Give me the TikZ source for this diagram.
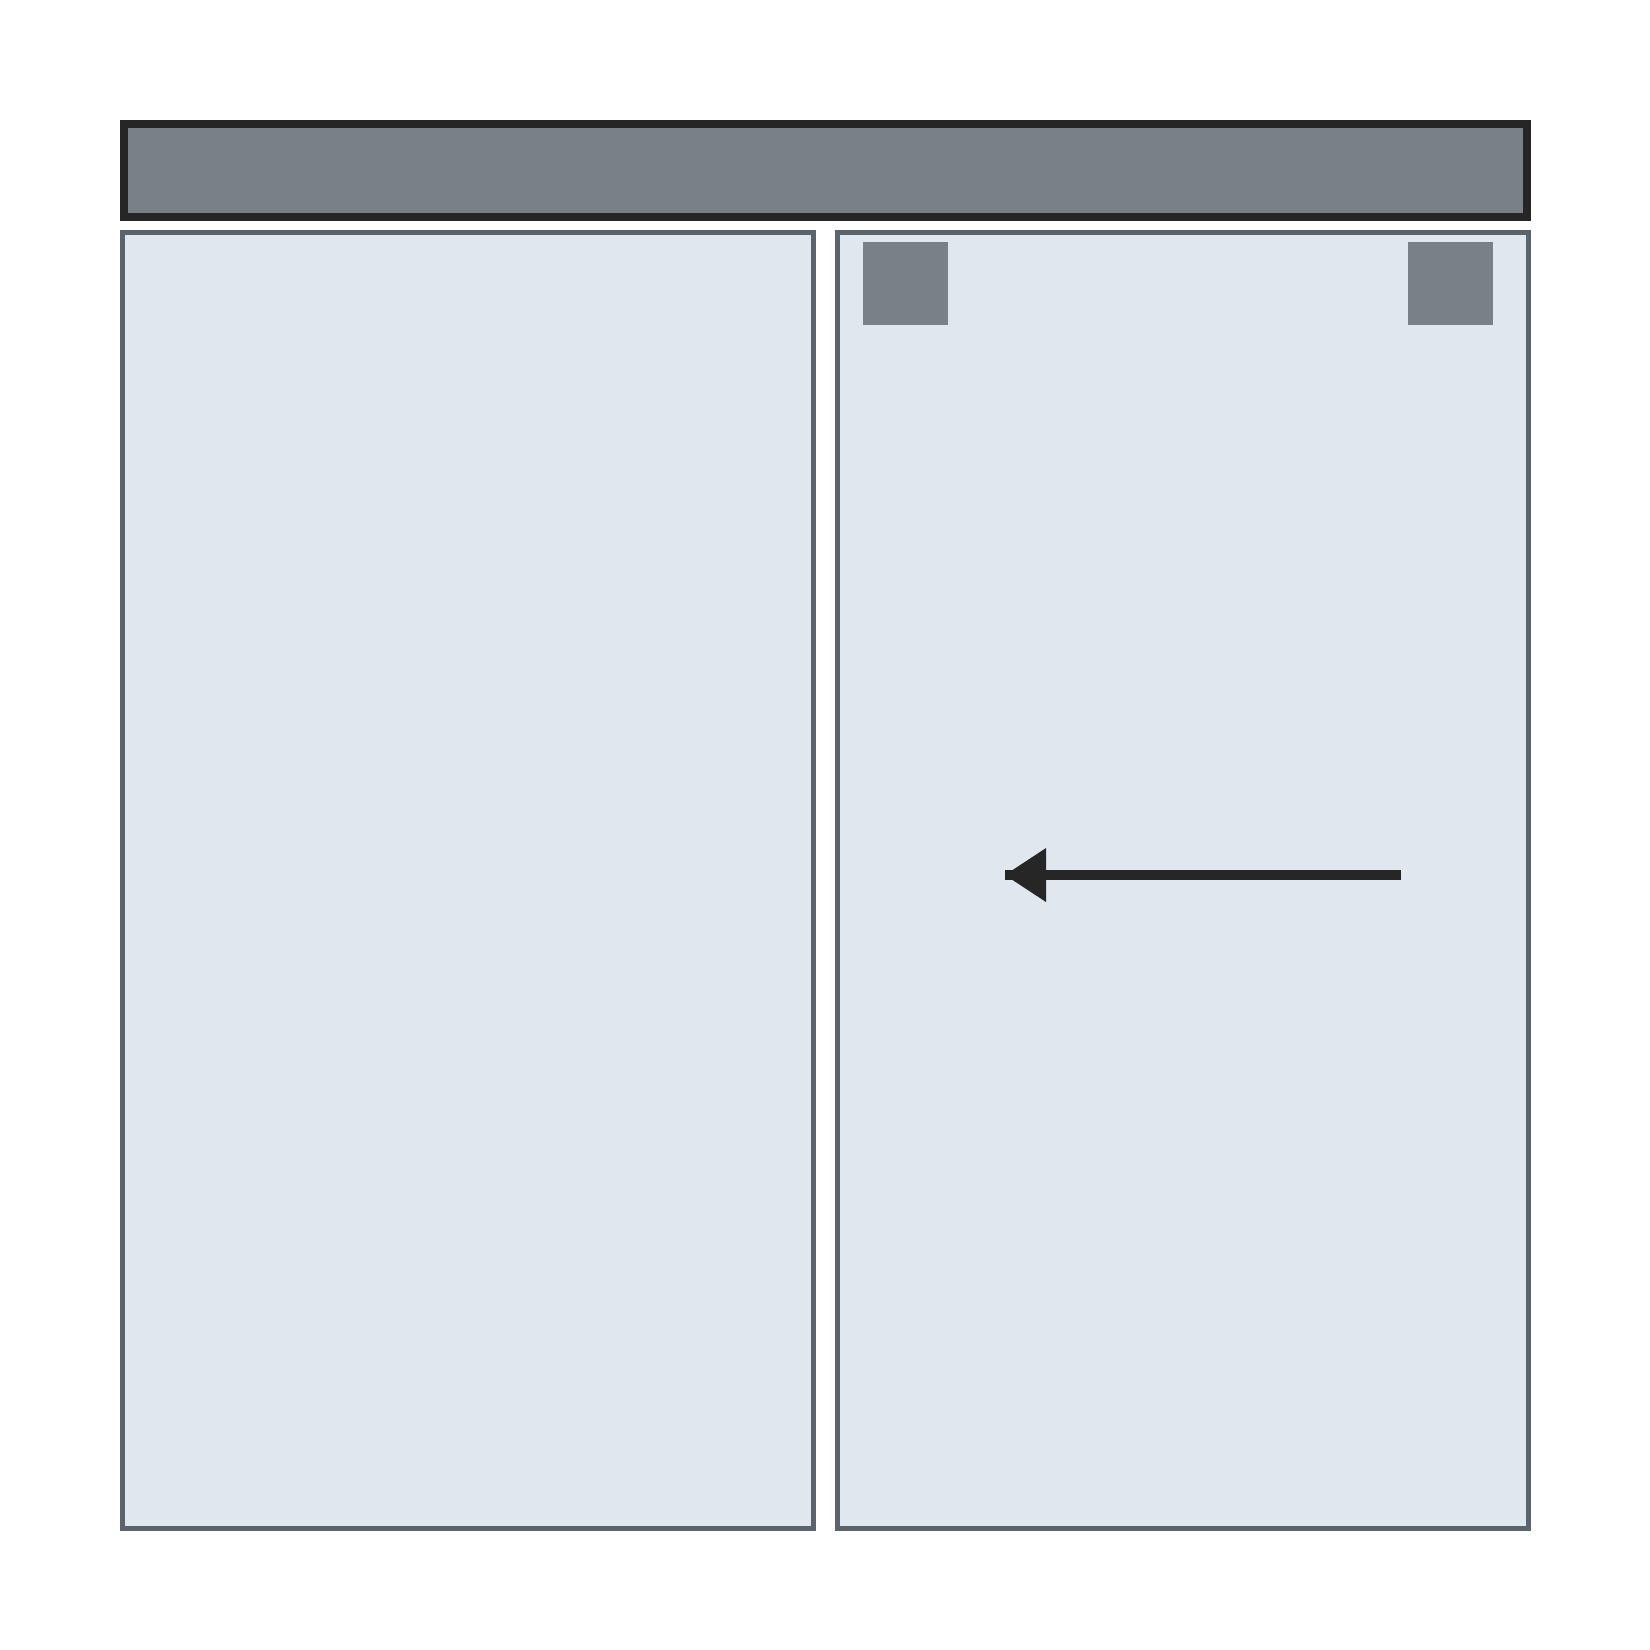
\documentclass[tikz,border=0pt]{standalone}
\usetikzlibrary{arrows.meta}
\definecolor{hdrfill}{HTML}{7A8088}
\definecolor{dark}{HTML}{262626}
\definecolor{panfill}{HTML}{E0E7EF}
\definecolor{panline}{HTML}{5B646D}
\tikzset{
  hdr/.style={draw=dark, fill=hdrfill, line width=8pt, minimum width=1403pt, minimum height=93pt, inner sep=0pt, outer sep=0pt},
  panel/.style={draw=panline, fill=panfill, line width=5pt, minimum width=691pt, minimum height=1296pt, inner sep=0pt, outer sep=0pt},
  sq/.style={fill=hdrfill, minimum width=85pt, minimum height=83pt, inner sep=0pt, outer sep=0pt},
  conn/.style={draw=dark, line width=10pt},
  head/.style={fill=dark}
}
\begin{document}
\begin{tikzpicture}[x=1pt,y=-1pt]
\useasboundingbox (0,0) rectangle (1650,1650);
\fill[white] (0,0) rectangle (1650,1650);
\node[hdr] (header) at (825.5,170.5) {};
\node[panel] (left) at (468,880.5) {};
\node[panel] (right) at (1183,880.5) {};
\node[sq] (sqa) at (905.5,283.5) {};
\node[sq] (sqb) at (1450.5,283.5) {};
\coordinate (src) at (1401,875);
\coordinate (tip) at (1005,875);
\coordinate (hu) at (1046,848);
\coordinate (hd) at (1046,902);
\draw[conn] (src) -- (tip);
\fill[head] (tip) -- (hu) -- (hd) -- cycle;
\end{tikzpicture}
\end{document}
